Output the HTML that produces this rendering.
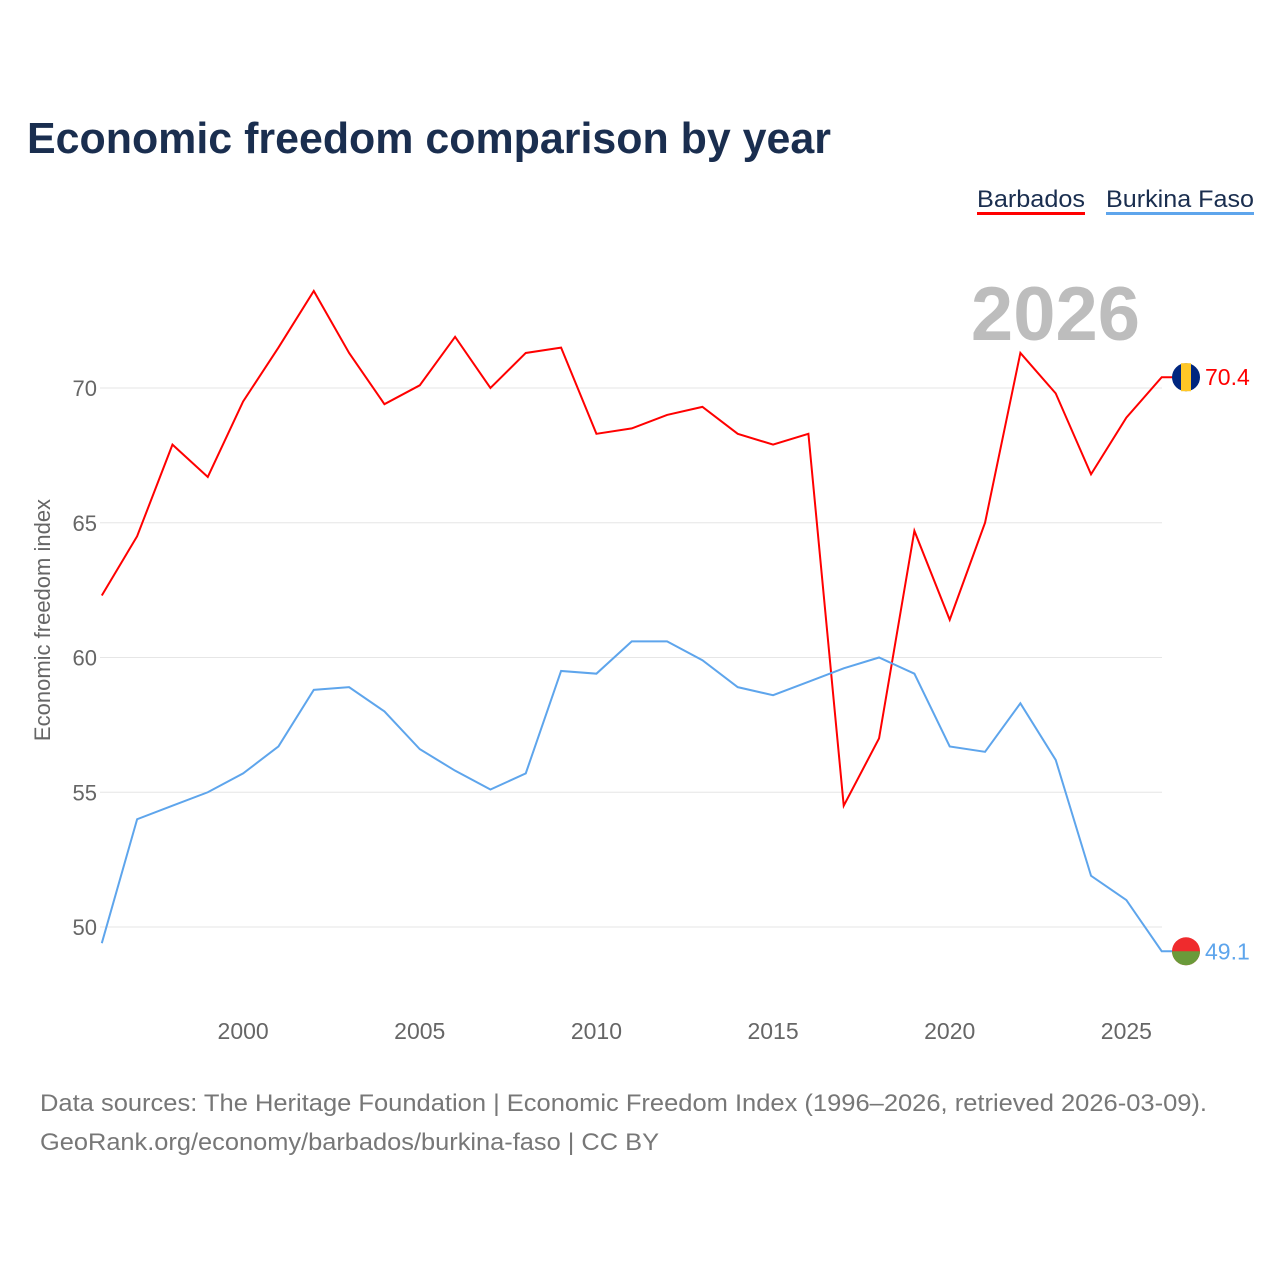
<!DOCTYPE html>
<html><head><meta charset="utf-8"><style>
body{margin:0;background:#fff;font-family:"Liberation Sans",sans-serif}
svg text{font-family:"Liberation Sans",sans-serif}
</style></head><body>
<svg width="1280" height="1280" id="c">
<text x="27" y="153" font-size="44" font-weight="bold" fill="#1a2e4f" textLength="804" lengthAdjust="spacingAndGlyphs">Economic freedom comparison by year</text>
<g>
<text x="977" y="207" font-size="24" fill="#1a2e4f" textLength="108" lengthAdjust="spacingAndGlyphs">Barbados</text>
<rect x="977" y="212" width="108" height="3" fill="#ff0000"/>
<text x="1106" y="207" font-size="24" fill="#1a2e4f" textLength="148" lengthAdjust="spacingAndGlyphs">Burkina Faso</text>
<rect x="1106" y="212" width="148" height="3" fill="#5ea5ec"/>
</g>
<text x="1140" y="340" font-size="76" font-weight="bold" fill="#bdbdbd" text-anchor="end">2026</text>
<text transform="translate(50,620) rotate(-90)" font-size="22" fill="#666" text-anchor="middle">Economic freedom index</text>
<g id="grid"></g><g id="lines"></g>
<text x="40" y="1111" font-size="24" fill="#777" textLength="1167" lengthAdjust="spacingAndGlyphs">Data sources: The Heritage Foundation | Economic Freedom Index (1996–2026, retrieved 2026-03-09).</text>
<text x="40" y="1150" font-size="24" fill="#777" textLength="619" lengthAdjust="spacingAndGlyphs">GeoRank.org/economy/barbados/burkina-faso | CC BY</text>
</svg>
<script>
const years=[1996,1997,1998,1999,2000,2001,2002,2003,2004,2005,2006,2007,2008,2009,2010,2011,2012,2013,2014,2015,2016,2017,2018,2019,2020,2021,2022,2023,2024,2025,2026];
const barbados=[62.3,64.5,67.9,66.7,69.5,71.5,73.6,71.3,69.4,70.1,71.9,70.0,71.3,71.5,68.3,68.5,69.0,69.3,68.3,67.9,68.3,54.5,57.0,64.7,61.4,65.0,71.3,69.8,66.8,68.9,70.4];
const burkina=[49.4,54.0,54.5,55.0,55.7,56.7,58.8,58.9,58.0,56.6,55.8,55.1,55.7,59.5,59.4,60.6,60.6,59.9,58.9,58.6,59.1,59.6,60.0,59.4,56.7,56.5,58.3,56.2,51.9,51.0,49.1];
const yTicks=[50,55,60,65,70];
const xTicks=[2000,2005,2010,2015,2020,2025];
const NS='http://www.w3.org/2000/svg';
const X=y=>101.8+(y-1996)*35.33;
const Y=v=>927-(v-50)*26.95;
function mk(t,a,p){const e=document.createElementNS(NS,t);for(const k in a)e.setAttribute(k,a[k]);p.appendChild(e);return e;}
const g=document.getElementById('grid'),L=document.getElementById('lines');
yTicks.forEach(v=>{
const l=mk('line',{x1:100,x2:1162,y1:Y(v),y2:Y(v),stroke:'#e6e6e6','stroke-width':1},g);


const t=mk('text',{x:97,y:Y(v)+8,'font-size':22,fill:'#666','text-anchor':'end'},g);t.textContent=v;


});
xTicks.forEach(v=>{
const t=mk('text',{x:X(v),y:1039,'font-size':23,fill:'#666','text-anchor':'middle'},g);t.textContent=v;


});
function series(vals,col,name){
const pts=vals.map((v,i)=>X(years[i])+','+Y(v));
const last=vals[vals.length-1],ly=Y(last);
pts.push('1175,'+ly);
const p=mk('polyline',{points:pts.join(' '),fill:'none',stroke:col,'stroke-width':2},L);


const c=mk('circle',{cx:1186,cy:ly,r:14,fill:col==='#ff0000'?'#00267f':'#ef2b2d'},L);


if(col==='#ff0000'){mk('rect',{x:1181,y:ly-14,width:10,height:28,fill:'#ffc726'},L);}
else{mk('path',{d:`M1172 ${ly} A14 14 0 0 0 1200 ${ly} Z`,fill:'#6a9a3a'},L);}
const t=mk('text',{x:1205,y:ly+8,'font-size':23,fill:col},L);t.textContent=last.toFixed(1);


}
series(barbados,'#ff0000','barbados');
series(burkina,'#5ea5ec','burkina-faso');
</script>
</body></html>
